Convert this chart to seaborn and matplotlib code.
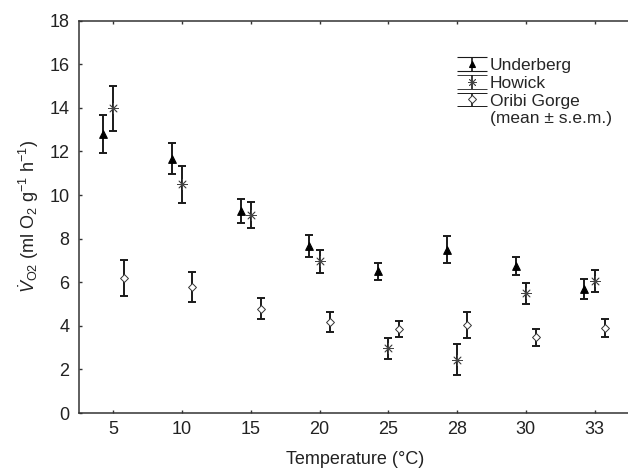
import numpy as np
import pandas as pd
import matplotlib
matplotlib.use("Agg")
import matplotlib.pyplot as plt
import seaborn as sns
from matplotlib.legend_handler import HandlerErrorbar
from matplotlib.lines import Line2D

temps = ['5', '10', '15', '20', '25', '28', '30', '33']
underberg_mean = [12.80, 11.66, 9.25, 7.65, 6.50, 7.50, 6.75, 5.70]
underberg_sem = [0.87, 0.71, 0.55, 0.50, 0.40, 0.62, 0.43, 0.45]
howick_mean = [13.98, 10.49, 9.08, 6.97, 2.96, 2.45, 5.49, 6.06]
howick_sem = [1.03, 0.84, 0.60, 0.53, 0.47, 0.70, 0.49, 0.50]
oribi_mean = [6.19, 5.79, 4.79, 4.16, 3.85, 4.02, 3.47, 3.90]
oribi_sem = [0.83, 0.69, 0.48, 0.46, 0.38, 0.60, 0.38, 0.42]
populations = ['Underberg', 'Howick', 'Oribi Gorge']

sns.set_theme(style='ticks')
plt.rcParams['font.family'] = ['Liberation Sans', 'DejaVu Sans']
plt.rcParams['mathtext.fontset'] = 'custom'
plt.rcParams['mathtext.rm'] = 'Liberation Sans'
plt.rcParams['mathtext.it'] = 'Liberation Sans:italic'

rows = []
for pop, m, s in zip(populations, [underberg_mean, howick_mean, oribi_mean],
                     [underberg_sem, howick_sem, oribi_sem]):
    for i, t in enumerate(temps):
        rows.append(dict(pop=pop, temp=t, idx=i, mean=m[i], sem=s[i]))
df = pd.DataFrame(rows)
offsets = {'Underberg': -0.15, 'Howick': 0.0, 'Oribi Gorge': 0.15}
df['xpos'] = df['idx'] + df['pop'].map(offsets)

fig = plt.figure(figsize=(6.28, 4.72), dpi=100)
ax = fig.add_axes([79 / 628, 59 / 472, 552 / 628, (413 - 20.7) / 472])

styles = {
    'Underberg': dict(marker='^', ms=5.5, mfc='black', mec='black', mew=0.8),
    'Howick': dict(marker=(8, 2, 0), ms=7, mfc='#444444', mec='#444444', mew=0.6),
    'Oribi Gorge': dict(marker='D', ms=4, mfc='white', mec='#333333', mew=0.7),
}

handles = []
for pop in populations:
    d = df[df['pop'] == pop]
    ax.errorbar(d['xpos'], d['mean'], yerr=d['sem'], fmt='none',
                ecolor='#1a1a1a', elinewidth=1.4, capsize=2.8, capthick=1.4, zorder=2)
    st = styles[pop]
    sns.scatterplot(x=d['xpos'], y=d['mean'], ax=ax, marker=st['marker'],
                    s=st['ms'] ** 2, color=st['mfc'], edgecolor=st['mec'],
                    linewidth=st['mew'], zorder=3, legend=False)
    # legend proxy
    h = ax.errorbar([np.nan], [np.nan], yerr=[1], fmt='', linestyle='none',
                    marker=st['marker'], ms=st['ms'] * 0.9,
                    mfc=st['mfc'], mec=st['mec'], mew=st['mew'], ecolor='#1a1a1a',
                    elinewidth=1.2, capsize=11, capthick=1.2, label=pop)
    handles.append(h)

blank = Line2D([], [], linestyle='none', marker='none')
handles.append(blank)
labels = populations + ['(mean \u00b1 s.e.m.)']
leg = ax.legend(handles, labels, loc='upper left', bbox_to_anchor=(0.677, 0.922),
                frameon=False, fontsize=12.5, handlelength=1.4, handletextpad=0.35,
                labelspacing=0.14, borderaxespad=0,
                handler_map={type(handles[0]): HandlerErrorbar(xerr_size=0.5, yerr_size=0.4)})

ax.set_xlim(-0.5, 7.53)
ax.set_ylim(0, 18)
ax.set_xticks(range(len(temps)))
ax.set_xticklabels(temps)
ax.set_yticks(np.arange(0, 19, 2))
ax.tick_params(direction='in', length=2.5, width=1.0, colors='#333333',
               labelcolor='#222222', labelsize=13, top=True, right=True)
ax.tick_params(axis='x', pad=6)
ax.tick_params(axis='y', pad=7)
for sp in ax.spines.values():
    sp.set_visible(True)
    sp.set_linewidth(1.1)
    sp.set_color('#333333')

ax.set_xlabel('Temperature (\u00b0C)', fontsize=13, color='#222222', labelpad=9)
ax.set_ylabel(r'$\dot{V}_{\mathrm{O2}}$ (ml O$_2$ g$^{-1}$ h$^{-1}$)', fontsize=13,
              color='#222222', labelpad=6)

fig.savefig('out.png', dpi=100)
